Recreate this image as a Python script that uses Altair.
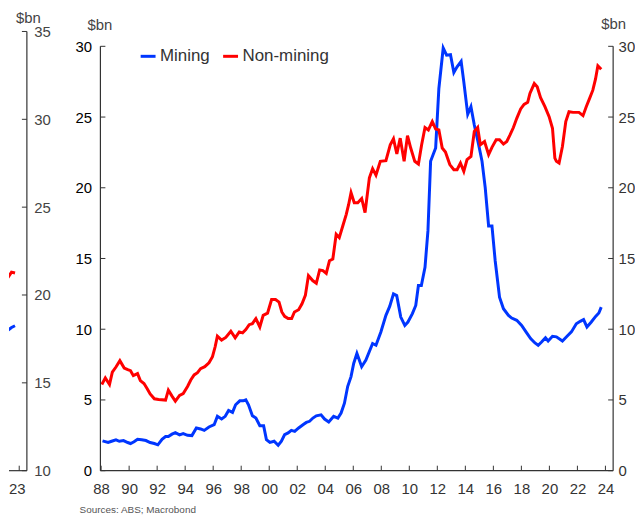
import altair as alt
import pandas as pd

FONT = "Liberation Sans"
BLUE = "#0036ff"
RED = "#ff0000"

# ---------------- data ----------------
mining_year = [1988.1, 1988.5, 1988.75, 1989.06, 1989.3, 1989.6, 1989.9, 1990.1, 1990.35, 1990.6,
               1990.9, 1991.2, 1991.5, 1991.8, 1992.05, 1992.35, 1992.6, 1992.8, 1993.06, 1993.3,
               1993.6, 1993.86, 1994.17, 1994.48, 1994.8, 1995.1, 1995.36, 1995.7, 1996.07, 1996.3,
               1996.6, 1996.86, 1997.1, 1997.38, 1997.6, 1997.9, 1998.14, 1998.33, 1998.52, 1998.8,
               1999.05, 1999.33, 1999.6, 1999.8, 2000.05, 2000.35, 2000.64, 2000.87, 2001.1, 2001.35,
               2001.58, 2001.82, 2002.1, 2002.41, 2002.65, 2002.88, 2003.12, 2003.36, 2003.7, 2003.95,
               2004.25, 2004.6, 2004.9, 2005.13, 2005.37, 2005.6, 2005.84, 2006.03, 2006.26, 2006.6,
               2006.9, 2007.38, 2007.62, 2007.97, 2008.33, 2008.6, 2008.87, 2009.1, 2009.39, 2009.68,
               2009.9, 2010.22, 2010.46, 2010.65, 2010.86, 2011.12, 2011.33, 2011.52, 2011.88, 2012.11,
               2012.42, 2012.66, 2012.94, 2013.18, 2013.41, 2013.7, 2013.89, 2014.17, 2014.4, 2014.64,
               2014.95, 2015.19, 2015.42, 2015.66, 2015.9, 2016.13, 2016.44, 2016.72, 2017.08, 2017.31,
               2017.67, 2018.02, 2018.33, 2018.66, 2018.97, 2019.2, 2019.44, 2019.72, 2019.91, 2020.22,
               2020.5, 2020.93, 2021.26, 2021.57, 2021.92, 2022.2, 2022.44, 2022.68, 2022.99, 2023.3,
               2023.53, 2023.7]
mining_value = [2.11, 1.99, 2.08, 2.18, 2.08, 2.13, 1.99, 1.92, 2.04, 2.22,
                2.18, 2.13, 1.99, 1.92, 1.83, 2.22, 2.41, 2.41, 2.58, 2.69,
                2.53, 2.62, 2.5, 2.48, 3.02, 2.95, 2.85, 3.09, 3.25, 3.84,
                3.65, 3.84, 4.26, 4.12, 4.66, 4.94, 4.94, 5.01, 4.66, 3.88,
                3.72, 3.18, 3.18, 2.2, 2.0, 2.08, 1.8, 2.08, 2.55, 2.67,
                2.85, 2.78, 3.02, 3.25, 3.41, 3.49, 3.72, 3.88, 3.95, 3.65,
                3.44, 3.84, 3.72, 4.07, 4.77, 5.95, 6.65, 7.58, 8.29, 7.35,
                7.82, 8.99, 8.87, 9.81, 10.98, 11.61, 12.5, 12.38, 10.86, 10.27,
                10.51, 11.1, 11.68, 13.09, 13.09, 14.38, 16.95, 21.87, 22.81, 27.02,
                29.88, 29.37, 29.41, 28.15, 28.55, 28.94, 27.49, 25.19, 25.73, 24.44,
                23.04, 21.87, 19.99, 17.3, 17.3, 14.84, 12.27, 11.45, 10.98, 10.79,
                10.63, 10.27, 9.81, 9.34, 9.03, 8.87, 9.1, 9.4, 9.17, 9.5,
                9.46, 9.17, 9.5, 9.81, 10.39, 10.56, 10.68, 10.16, 10.51, 10.91,
                11.15, 11.56]

nonmining_year = [1988.05, 1988.3, 1988.6, 1988.8, 1989.06, 1989.34, 1989.65, 1989.9, 1990.1, 1990.3,
                  1990.6, 1990.8, 1991.06, 1991.3, 1991.5, 1991.8, 1992.1, 1992.6, 1992.8, 1993.06,
                  1993.3, 1993.6, 1993.86, 1994.17, 1994.4, 1994.64, 1994.88, 1995.1, 1995.4, 1995.7,
                  1995.95, 1996.14, 1996.3, 1996.6, 1996.9, 1997.26, 1997.57, 1997.86, 1998.1, 1998.33,
                  1998.57, 1998.8, 1999.05, 1999.33, 1999.57, 1999.88, 2000.17, 2000.45, 2000.7, 2000.9,
                  2001.1, 2001.35, 2001.6, 2001.8, 2002.1, 2002.34, 2002.58, 2002.8, 2003.1, 2003.36,
                  2003.6, 2003.83, 2004.07, 2004.3, 2004.54, 2004.78, 2005.0, 2005.25, 2005.5, 2005.67,
                  2005.84, 2006.07, 2006.32, 2006.6, 2006.84, 2007.15, 2007.38, 2007.62, 2007.93, 2008.33,
                  2008.64, 2008.87, 2009.11, 2009.35, 2009.63, 2009.87, 2010.1, 2010.39, 2010.65, 2010.88,
                  2011.12, 2011.36, 2011.64, 2011.88, 2012.11, 2012.35, 2012.58, 2012.89, 2013.18, 2013.41,
                  2013.65, 2013.89, 2014.12, 2014.4, 2014.64, 2014.88, 2015.07, 2015.37, 2015.66, 2015.9,
                  2016.2, 2016.44, 2016.72, 2016.96, 2017.19, 2017.43, 2017.67, 2017.95, 2018.19, 2018.45,
                  2018.61, 2018.92, 2019.13, 2019.37, 2019.68, 2019.98, 2020.22, 2020.39, 2020.5, 2020.69,
                  2020.93, 2021.17, 2021.4, 2021.69, 2022.11, 2022.4, 2022.63, 2022.87, 2023.1, 2023.29,
                  2023.46, 2023.7]
nonmining_value = [6.09, 6.56, 6.09, 6.96, 7.33, 7.78, 7.26, 7.14, 7.07, 6.72,
                   6.86, 6.37, 6.16, 5.78, 5.43, 5.08, 5.03, 4.99, 5.69, 5.27,
                   4.92, 5.32, 5.45, 5.95, 6.41, 6.77, 6.93, 7.21, 7.35, 7.63,
                   8.06, 8.76, 9.51, 9.23, 9.42, 9.86, 9.39, 9.81, 9.74, 9.97,
                   10.32, 10.39, 10.75, 10.16, 10.98, 11.14, 12.1, 12.1, 11.92, 11.22,
                   10.91, 10.75, 10.75, 11.22, 11.38, 11.8, 12.39, 13.79, 13.44, 13.25,
                   14.19, 14.14, 13.95, 14.84, 14.96, 16.71, 16.48, 17.3, 18.12, 18.82,
                   19.65, 18.94, 18.94, 19.24, 18.24, 20.7, 21.35, 20.89, 21.87, 21.92,
                   23.04, 23.46, 22.39, 23.51, 21.87, 23.69, 22.81, 21.87, 21.68, 23.04,
                   24.26, 24.09, 24.68, 24.16, 24.09, 22.81, 22.53, 21.64, 21.28, 21.28,
                   21.75, 21.16, 21.99, 22.22, 23.98, 24.26, 23.04, 23.27, 22.34, 22.86,
                   23.39, 23.39, 23.09, 23.27, 23.74, 24.26, 24.91, 25.57, 25.9, 26.04,
                   26.67, 27.37, 27.14, 26.37, 25.73, 25.03, 24.21, 22.1, 21.87, 21.75,
                   22.92, 24.68, 25.38, 25.33, 25.33, 25.1, 25.73, 26.32, 26.9, 27.68,
                   28.62, 28.38]

# cropped neighbouring panel on the left
left_mining_year = [2022.95, 2023.2, 2023.45, 2023.7]
left_mining_value = [17.9, 18.0, 18.15, 18.25]
left_nonmining_year = [2022.95, 2023.2, 2023.45, 2023.7]
left_nonmining_value = [20.6, 21.0, 21.3, 21.25]

series_names = ["Mining", "Non-mining"]
main_y_ticks = [0, 5, 10, 15, 20, 25, 30]
main_x_ticks = list(range(1988, 2025, 2))
left_y_ticks = [10, 15, 20, 25, 30, 35]
left_x_ticks = [2024]
left_x_label = "23"
source_text = "Sources: ABS; Macrobond"
unit = "$bn"

# ---------------- frames ----------------
df_main = pd.concat([
    pd.DataFrame({"year": mining_year, "value": mining_value, "series": "Mining"}),
    pd.DataFrame({"year": nonmining_year, "value": nonmining_value, "series": "Non-mining"}),
])
df_left = pd.concat([
    pd.DataFrame({"year": left_mining_year, "value": left_mining_value, "series": "Mining"}),
    pd.DataFrame({"year": left_nonmining_year, "value": left_nonmining_value, "series": "Non-mining"}),
])

color_scale = alt.Scale(domain=series_names, range=[BLUE, RED])
AX = "#333333"

# ---------------- main panel ----------------
W, H = 516, 442
YMAX = 31.05
xs = alt.Scale(domain=[1987.95, 2024.55], nice=False, zero=False)
ys = alt.Scale(domain=[0, YMAX], nice=False, zero=False)

lines = alt.Chart(df_main).mark_line(strokeWidth=3, clip=True).encode(
    x=alt.X("year:Q", scale=xs, axis=alt.Axis(
        values=main_x_ticks, labelExpr="slice(toString(datum.value), 2)",
        ticks=False, domain=False, grid=False, labelPadding=11, labelFontSize=15,
        labelColor=AX, labelFlush=False, labelOverlap=False, title=None)),
    y=alt.Y("value:Q", scale=ys, axis=alt.Axis(
        orient="left", values=main_y_ticks, ticks=False, domain=False, grid=False,
        labelPadding=9, labelFontSize=15, labelColor="#000000", labelFlush=False,
        labelOverlap=False, title=unit, titleAngle=0, titleX=-1, titleY=-2,
        titleAlign="center", titleBaseline="alphabetic", titleFontSize=15,
        titleFontWeight="normal", titleColor="#444444")),
    color=alt.Color("series:N", scale=color_scale, legend=alt.Legend(
        orient="none", legendX=39, legendY=16, direction="horizontal", title=None,
        symbolType="stroke", symbolSize=225, symbolStrokeWidth=3, labelFontSize=17,
        labelColor=AX, labelOffset=3, columnPadding=6, padding=0, labelLimit=300)),
    order=alt.Order("year:Q"),
)

tick_df = pd.DataFrame({"t": main_y_ticks})
right_axis = alt.Chart(tick_df).mark_rule(color=AX, strokeWidth=1).encode(
    x=alt.value(W - 5), x2=alt.value(W),
    y=alt.Y("t:Q", scale=ys, axis=alt.Axis(
        orient="right", values=main_y_ticks, ticks=False, domain=False, grid=False,
        labelPadding=5, labelFontSize=15, labelColor=AX, labelFlush=False,
        labelOverlap=False, title=unit, titleAngle=0, titleX=0, titleY=-3,
        titleAlign="center", titleBaseline="alphabetic", titleFontSize=15,
        titleFontWeight="normal", titleColor="#444444")),
)
left_ticks = alt.Chart(tick_df).mark_rule(color=AX, strokeWidth=1).encode(
    x=alt.value(0), x2=alt.value(5),
    y=alt.Y("t:Q", scale=ys, axis=None),
)
xtick_df = pd.DataFrame({"yr": main_x_ticks})
x_ticks = alt.Chart(xtick_df).mark_rule(color=AX, strokeWidth=1).encode(
    x=alt.X("yr:Q", scale=xs, axis=None),
    y=alt.value(H - 5), y2=alt.value(H),
)
frame_df = pd.DataFrame({"top": [30], "bot": [0]})
left_line = alt.Chart(frame_df).mark_rule(color=AX, strokeWidth=1.2).encode(
    x=alt.value(0), y=alt.Y("top:Q", scale=ys, axis=None), y2="bot:Q")
right_line = alt.Chart(frame_df).mark_rule(color=AX, strokeWidth=1.2).encode(
    x=alt.value(W), y=alt.Y("top:Q", scale=ys, axis=None), y2="bot:Q")
bottom_line = alt.Chart(frame_df).mark_rule(color=AX, strokeWidth=1.2).encode(
    x=alt.value(0), x2=alt.value(W), y=alt.Y("bot:Q", scale=ys, axis=None))
source = alt.Chart(pd.DataFrame({"t": [source_text]})).mark_text(
    align="left", baseline="top", fontSize=10, color="#555555", font=FONT
).encode(text="t:N", x=alt.value(-21), y=alt.value(H + 35))

main = alt.layer(
    lines, right_axis, left_ticks, x_ticks, left_line, right_line, bottom_line, source
).resolve_scale(y="independent", x="independent").properties(width=W, height=H)

# ---------------- cropped left panel ----------------
LW = 18
lxs = alt.Scale(domain=[2023.27, 2023.27 + LW / 14.1], nice=False, zero=False)
lys = alt.Scale(domain=[10, 35], nice=False, zero=False)

l_lines = alt.Chart(df_left).mark_line(strokeWidth=3, clip=True).encode(
    x=alt.X("year:Q", scale=lxs, axis=None),
    y=alt.Y("value:Q", scale=lys, axis=alt.Axis(
        orient="right", values=left_y_ticks, ticks=False, domain=False, grid=False,
        labelPadding=7, labelFontSize=15, labelColor="#444444", labelFlush=False,
        labelOverlap=False, title=unit, titleAngle=0, titleX=1, titleY=-9,
        titleAlign="center", titleBaseline="alphabetic", titleFontSize=15,
        titleFontWeight="normal", titleColor="#444444")),
    color=alt.Color("series:N", scale=color_scale, legend=None),
)
l_tick_df = pd.DataFrame({"t": left_y_ticks})
l_yticks = alt.Chart(l_tick_df).mark_rule(color=AX, strokeWidth=1).encode(
    x=alt.value(LW - 5), x2=alt.value(LW), y=alt.Y("t:Q", scale=lys, axis=None))
l_xticks = alt.Chart(pd.DataFrame({"yr": left_x_ticks})).mark_rule(color=AX, strokeWidth=1).encode(
    x=alt.X("yr:Q", scale=lxs, axis=None), y=alt.value(H - 5), y2=alt.value(H))
l_frame = pd.DataFrame({"top": [35], "bot": [10]})
l_axis = alt.Chart(l_frame).mark_rule(color=AX, strokeWidth=1.2).encode(
    x=alt.value(LW), y=alt.Y("top:Q", scale=lys, axis=None), y2="bot:Q")
l_bottom = alt.Chart(l_frame).mark_rule(color=AX, strokeWidth=1.2).encode(
    x=alt.value(0), x2=alt.value(LW), y=alt.Y("bot:Q", scale=lys, axis=None))
l_label = alt.Chart(pd.DataFrame({"t": [left_x_label]})).mark_text(
    align="left", baseline="top", fontSize=15, color=AX, font=FONT
).encode(text="t:N", x=alt.value(0), y=alt.value(H + 11))

left = alt.layer(l_lines, l_yticks, l_xticks, l_axis, l_bottom, l_label).resolve_scale(
    y="independent", x="independent").properties(width=LW, height=H)

chart = alt.hconcat(left, main, spacing=24).resolve_scale(
    color="independent"
).resolve_legend(color="independent").properties(
    padding={"left": 0, "top": 1, "right": 0, "bottom": 0}
).configure_view(stroke=None).configure_axis(
    labelFont=FONT, titleFont=FONT
).configure_legend(labelFont=FONT).configure_text(font=FONT)

chart.save("out.html", embed_options={"renderer": "svg", "actions": False})
